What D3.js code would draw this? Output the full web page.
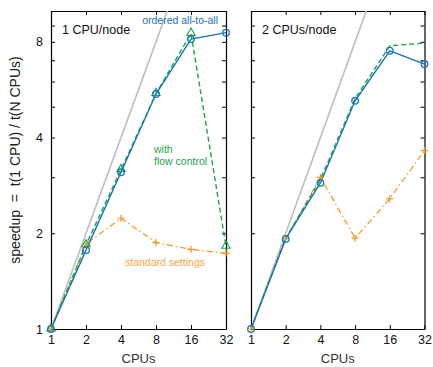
<!DOCTYPE html>
<html>
<head>
<meta charset="utf-8">
<script src="https://cdn.jsdelivr.net/npm/d3@7"></script>
<style>
  body { margin: 0; background: #fff; }
  text { font-family: "Liberation Sans", Arial, sans-serif; }
</style>
</head>
<body>
<div id="chart"></div>
<script>
// data
const cpus = [1, 2, 4, 8, 16, 32];
const panelTitles = ['1 CPU/node', '2 CPUs/node'];
const orderedA2A = [
  [1, 1.77, 3.11, 5.48, 8.16, 8.55],
  [1, 1.92, 2.88, 5.22, 7.5, 6.81]
];
const flowControl = [
  [1, 1.84, 3.17, 5.5, 8.5, 1.82],
  [1, 1.93, 2.95, 5.3, 7.77, 7.93]
];
const standard = [
  [1, 1.85, 2.23, 1.87, 1.78, 1.73],
  [1, 1.92, 3.0, 1.93, 2.57, 3.64]
];
const yTicks = [1, 2, 3, 4, 5, 6, 7, 8, 9, 10];
const yLabels = [1, 2, 4, 8];

const W = 433, H = 367;
const panels = [{ x0: 51, x1: 226 }, { x0: 251, x1: 424.5 }];
const plotTop = 11, plotBottom = 329;

const blue = '#1a75bc', green = '#1fa34a', orange = '#f7941d';

const svg = d3.select('#chart').append('svg')
  .attr('width', W).attr('height', H);

const y = d3.scaleLog().base(2).domain([1, 10]).range([plotBottom, plotTop]);

panels.forEach((p, i) => {
  const x = d3.scaleLog().base(2).domain([1, 32]).range([p.x0, p.x1]);
  const g = svg.append('g');

  g.append('clipPath').attr('id', 'clip' + i)
    .append('rect').attr('x', p.x0).attr('y', plotTop)
    .attr('width', p.x1 - p.x0).attr('height', plotBottom - plotTop);

  // axes, ticks pointing inward on all four sides
  const tl = 4;
  g.append('g').attr('transform', `translate(0,${plotBottom})`)
    .call(d3.axisBottom(x).tickValues(cpus).tickFormat(d3.format('d')).tickSizeInner(-tl).tickSizeOuter(0).tickPadding(6));
  g.append('g').attr('transform', `translate(0,${plotTop})`)
    .call(d3.axisTop(x).tickValues(cpus).tickFormat('').tickSizeInner(-tl).tickSizeOuter(0));
  g.append('g').attr('transform', `translate(${p.x0},0)`)
    .call(d3.axisLeft(y).tickValues(yTicks)
      .tickFormat(d => (i === 0 && yLabels.includes(d)) ? d : '')
      .tickSizeInner(-tl).tickSizeOuter(0).tickPadding(8));
  g.append('g').attr('transform', `translate(${p.x1},0)`)
    .call(d3.axisRight(y).tickValues(yTicks).tickFormat('').tickSizeInner(-tl).tickSizeOuter(0));
  g.selectAll('.domain').attr('stroke', '#000').attr('stroke-width', 1.2);
  g.selectAll('.tick line').attr('stroke', '#000');
  g.selectAll('.tick text').attr('font-size', 12.5).attr('fill', '#111')
    .attr('font-family', '"Liberation Sans", Arial, sans-serif');

  const plot = g.append('g').attr('clip-path', `url(#clip${i})`);

  // ideal speedup
  plot.append('path')
    .datum([1, 32])
    .attr('d', d3.line().x(d => x(d)).y(d => y(d)))
    .attr('fill', 'none').attr('stroke', '#bdbdbd').attr('stroke-width', 1.6);

  const line = d3.line().x((d, j) => x(cpus[j])).y(d => y(d));

  // standard settings
  plot.append('path').datum(standard[i]).attr('d', line)
    .attr('fill', 'none').attr('stroke', orange).attr('stroke-width', 1.2)
    .attr('stroke-dasharray', '6,3,1.5,3');
  standard[i].forEach((v, j) => {
    const cx = x(cpus[j]), cy = y(v), s = 3.5;
    g.append('path').attr('d', `M${cx - s},${cy}H${cx + s}M${cx},${cy - s}V${cy + s}`)
      .attr('stroke', orange).attr('stroke-width', 1.2);
  });

  // flow control
  plot.append('path').datum(flowControl[i]).attr('d', line)
    .attr('fill', 'none').attr('stroke', green).attr('stroke-width', 1.4)
    .attr('stroke-dasharray', '5,3');
  if (i === 0) {
    flowControl[i].forEach((v, j) => {
      g.append('path')
        .attr('d', d3.symbol().type(d3.symbolTriangle).size(30)())
        .attr('transform', `translate(${x(cpus[j])},${y(v) - 0.5})`)
        .attr('fill', 'none').attr('stroke', green).attr('stroke-width', 1.1);
    });
  }

  // ordered all-to-all
  plot.append('path').datum(orderedA2A[i]).attr('d', line)
    .attr('fill', 'none').attr('stroke', blue).attr('stroke-width', 1.4);
  g.selectAll('circle.o').data(orderedA2A[i]).enter().append('circle')
    .attr('cx', (d, j) => x(cpus[j])).attr('cy', d => y(d)).attr('r', 3.3)
    .attr('fill', 'none').attr('stroke', blue).attr('stroke-width', 1.3);

  g.append('text').attr('x', p.x0 + 11).attr('y', 34)
    .attr('font-size', 12.5).attr('fill', '#111').text(panelTitles[i]);

  g.append('text').attr('x', (p.x0 + p.x1) / 2).attr('y', 363)
    .attr('text-anchor', 'middle').attr('font-size', 13).attr('fill', '#333').text('CPUs');
});

// series annotations on the left panel
svg.append('text').attr('x', 218).attr('y', 24).attr('text-anchor', 'end')
  .attr('font-size', 10.5).attr('fill', blue).text('ordered all-to-all');
svg.append('text').attr('x', 154).attr('y', 153)
  .attr('font-size', 10.5).attr('fill', green).text('with');
svg.append('text').attr('x', 154).attr('y', 165)
  .attr('font-size', 10.5).attr('fill', green).text('flow control');
svg.append('text').attr('x', 125).attr('y', 266)
  .attr('font-size', 10.5).attr('fill', '#f9a54a').text('standard settings');

svg.append('text')
  .attr('transform', 'translate(20,160) rotate(-90)')
  .attr('text-anchor', 'middle').attr('font-size', 14).attr('fill', '#222')
  .attr('xml:space', 'preserve')
  .text('speedup  =  t(1 CPU) / t(N CPUs)');
</script>
</body>
</html>
